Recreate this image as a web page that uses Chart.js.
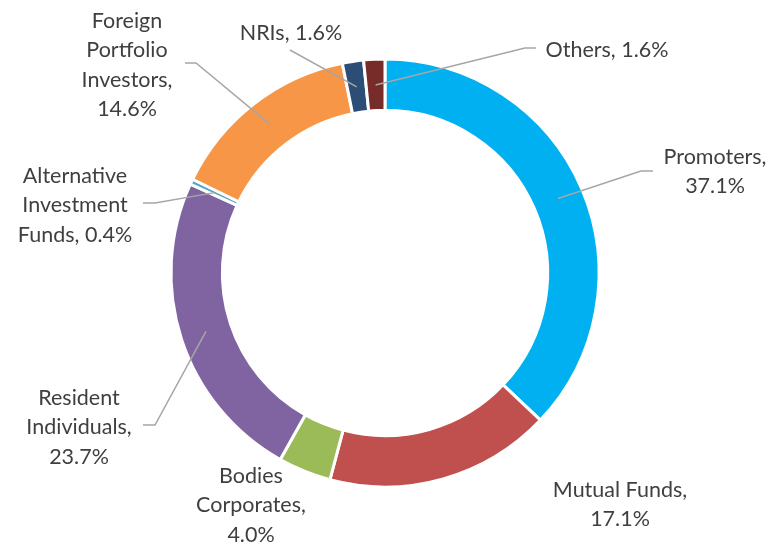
<!DOCTYPE html>
<html>
<head>
<meta charset="utf-8">
<script src="https://cdn.jsdelivr.net/npm/chart.js@4"></script>
<style>
    html, body { margin: 0; padding: 0; background: #fff; }
    #wrap { width: 774px; height: 546px; }
</style>
</head>
<body>
<div id="wrap"><canvas id="chart-holding"></canvas></div>
<script>
const categories = ['Promoters', 'Mutual Funds', 'Bodies Corporates', 'Resident Individuals',
    'Alternative Investment Funds', 'Foreign Portfolio Investors', 'NRIs', 'Others'];
const shares = [37.1, 17.1, 4.0, 23.7, 0.4, 14.6, 1.6, 1.6];
const sliceColors = ['#00b0f0', '#c0504d', '#9bbb59', '#8064a2', '#4bacc6', '#f79646', '#2c4d75', '#772c2a'];

// where each data label sits: text centre x, first baseline y, wrap width,
// and (optionally) where its leader line ends next to the text
const labelLayout = [
    { x: 715, y: 164, wrap: 125, end: [653, 171], elbow: 12 },
    { x: 620, y: 497, wrap: 165 },
    { x: 251, y: 483, wrap: 135 },
    { x: 79,  y: 405, wrap: 135, end: [143, 425], elbow: -12 },
    { x: 75,  y: 183, wrap: 128, end: [143, 203], elbow: -12 },
    { x: 127, y: 28,  wrap: 118, end: [185, 63], elbow: -11 },
    { x: 291, y: 40,  wrap: 200, end: [290, 50], elbow: 0 },
    { x: 607, y: 57,  wrap: 200, end: [536, 48], elbow: 11 }
];

const colors = {
    text: '#3f3f3f',
    leader: '#a6a6a6'
};

const labelFont = "21.5px Lato, 'Open Sans', sans-serif";
const lineHeight = 29.3;

function wrapText(ctx, text, maxWidth) {
    const words = text.split(' ');
    const lines = [];
    let line = '';
    words.forEach(w => {
        const test = line ? line + ' ' + w : w;
        if (line && ctx.measureText(test).width > maxWidth) {
            lines.push(line);
            line = w;
        } else {
            line = test;
        }
    });
    if (line) lines.push(line);
    return lines;
}

const calloutLabels = {
    id: 'calloutLabels',
    afterDraw(chart) {
        const ctx = chart.ctx;
        const arcs = chart.getDatasetMeta(0).data;
        ctx.save();
        ctx.font = labelFont;

        // leader lines
        ctx.strokeStyle = colors.leader;
        ctx.lineWidth = 1.5;
        arcs.forEach((arc, i) => {
            const lay = labelLayout[i];
            if (!lay.end) return;
            const p = arc.tooltipPosition();
            const ex = lay.end[0], ey = lay.end[1];
            ctx.beginPath();
            ctx.moveTo(p.x, p.y);
            ctx.lineTo(ex - lay.elbow, ey);
            ctx.lineTo(ex, ey);
            ctx.stroke();
        });

        // texts
        ctx.fillStyle = colors.text;
        ctx.textAlign = 'center';
        ctx.textBaseline = 'alphabetic';
        categories.forEach((cat, i) => {
            const lay = labelLayout[i];
            const text = cat + ', ' + shares[i].toFixed(1) + '%';
            wrapText(ctx, text, lay.wrap).forEach((ln, k) => {
                ctx.fillText(ln, lay.x, lay.y + k * lineHeight);
            });
        });
        ctx.restore();
    }
};

function initChart() {
    new Chart(document.getElementById('chart-holding'), {
        type: 'doughnut',
        data: {
            labels: categories,
            datasets: [{
                data: shares,
                backgroundColor: sliceColors,
                borderColor: '#ffffff',
                borderWidth: 3
            }]
        },
        options: {
            responsive: true,
            maintainAspectRatio: false,
            animation: false,
            events: [],
            radius: 214,
            cutout: '76%',
            layout: { padding: { right: 4 } },
            plugins: {
                legend: { display: false },
                tooltip: { enabled: false }
            }
        },
        plugins: [calloutLabels]
    });
}

document.addEventListener('DOMContentLoaded', initChart);
</script>
</body>
</html>
